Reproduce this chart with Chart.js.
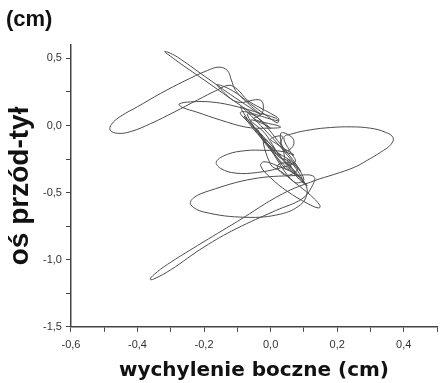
<!DOCTYPE html>
<html>
<head>
<meta charset="utf-8">
<script src="https://cdn.jsdelivr.net/npm/chart.js@4"></script>
<style>
  html, body { margin: 0; padding: 0; background: #fff; }
</style>
</head>
<body>
<canvas id="myChart" width="444" height="383"></canvas>
<script>
  // path of the centre of pressure, split into the visible loops (cm)
  const spikeX = [0.00, -0.05, -0.12, -0.20, -0.27, -0.30, -0.318, -0.31, -0.28, -0.20, -0.12, -0.06, -0.03];
  const spikeY = [-0.02, 0.08, 0.20, 0.34, 0.46, 0.515, 0.55, 0.548, 0.51, 0.37, 0.23, 0.13, 0.08];

  const leftLoopX = [-0.07, -0.105, -0.118, -0.13, -0.155, -0.19, -0.26, -0.33, -0.40, -0.45, -0.478, -0.482, -0.46, -0.42, -0.36, -0.29, -0.22, -0.16, -0.125, -0.10, -0.07];
  const leftLoopY = [0.17, 0.26, 0.34, 0.41, 0.435, 0.41, 0.33, 0.24, 0.14, 0.07, 0.01, -0.035, -0.058, -0.045, 0.015, 0.10, 0.19, 0.265, 0.30, 0.27, 0.19];

  const tiltLoopX = [-0.03, 0.0, 0.024, 0.02, -0.01, -0.06, -0.115, -0.16, -0.15, -0.10, -0.03, -0.025, -0.05];
  const tiltLoopY = [0.13, 0.09, 0.05, 0.02, 0.07, 0.16, 0.26, 0.305, 0.27, 0.175, 0.188, 0.09, 0.05];

  const flatLoopX = [0.03, -0.02, -0.074, -0.15, -0.222, -0.265, -0.275, -0.24, -0.173, -0.10, -0.03, 0.015, 0.022];
  const flatLoopY = [-0.01, -0.02, -0.012, 0.04, 0.10, 0.135, 0.16, 0.176, 0.174, 0.14, 0.09, 0.055, 0.035];

  const clusterAX = [-0.09, -0.03, 0.03, 0.01, -0.05, -0.08, -0.04, 0.02, 0.06, 0.05, 0.0, -0.04, -0.01, 0.04, 0.03, 0.065, 0.068, 0.045, 0.03, 0.035, 0.0];
  const clusterAY = [0.10, -0.06, -0.23, -0.19, -0.01, 0.07, -0.06, -0.2, -0.27, -0.33, -0.17, -0.03, -0.14, -0.25, -0.06, -0.09, -0.15, -0.19, -0.14, -0.08, -0.1];

  const midLoopX = [0.02, 0.07, 0.04, -0.02, -0.074, -0.13, -0.163, -0.15, -0.104, -0.04, 0.03, 0.074, 0.06];
  const midLoopY = [-0.14, -0.22, -0.195, -0.185, -0.187, -0.215, -0.27, -0.32, -0.355, -0.35, -0.315, -0.27, -0.2];

  const rightLoopX = [0.04, 0.064, 0.12, 0.18, 0.242, 0.30, 0.345, 0.368, 0.362, 0.33, 0.29, 0.252, 0.19, 0.133, 0.035, -0.10, -0.22, -0.31, -0.35, -0.362, -0.352, -0.30, -0.20, -0.104, 0.015, 0.094, 0.123];
  const rightLoopY = [-0.09, -0.062, -0.032, -0.015, -0.01, -0.02, -0.05, -0.09, -0.14, -0.2, -0.26, -0.311, -0.365, -0.41, -0.51, -0.715, -0.895, -1.035, -1.11, -1.146, -1.145, -1.075, -0.905, -0.77, -0.634, -0.547, -0.46];

  const lowLoopX = [0.13, 0.074, -0.054, -0.183, -0.232, -0.24, -0.2, -0.074, 0.03, 0.09, 0.109, 0.105, 0.08];
  const lowLoopY = [-0.38, -0.373, -0.398, -0.485, -0.54, -0.59, -0.645, -0.684, -0.66, -0.59, -0.51, -0.44, -0.37];

  const smallLoopX = [0.02, -0.02, -0.03, 0.0, 0.05, 0.11, 0.145, 0.148, 0.12, 0.07, 0.03, 0.0];
  const smallLoopY = [-0.3, -0.27, -0.3, -0.39, -0.49, -0.58, -0.615, -0.595, -0.52, -0.42, -0.34, -0.29];

  const clusterCX = [-0.02, 0.04, 0.08, 0.02, -0.05, -0.09, -0.03, 0.05, 0.1, 0.07, 0.0, -0.07, -0.04, 0.03, 0.09, 0.06, 0.02, 0.045, 0.08, 0.06];
  const clusterCY = [-0.1, -0.26, -0.38, -0.24, -0.02, 0.14, 0.0, -0.22, -0.4, -0.42, -0.18, 0.08, 0.06, -0.14, -0.34, -0.28, -0.3, -0.37, -0.33, -0.26];

  const clusterBX = [0.05, 0.09, 0.11, 0.08, 0.04, 0.07, 0.1, 0.06, 0.02, 0.0, -0.02, -0.06, -0.03, 0.0];
  const clusterBY = [-0.26, -0.4, -0.45, -0.36, -0.25, -0.3, -0.43, -0.33, -0.2, -0.12, -0.05, 0.04, 0.02, -0.02];

  const segments = [
    [spikeX, spikeY], [leftLoopX, leftLoopY], [tiltLoopX, tiltLoopY], [flatLoopX, flatLoopY],
    [clusterAX, clusterAY], [midLoopX, midLoopY], [rightLoopX, rightLoopY], [lowLoopX, lowLoopY],
    [smallLoopX, smallLoopY], [clusterCX, clusterCY], [clusterBX, clusterBY]
  ];

  const path = [];
  segments.forEach(([xs, ys]) => {
    xs.forEach((x, i) => path.push({ x: x, y: ys[i] }));
  });

  const fmt = (v) => (Math.abs(v) < 1e-9 ? 0 : v).toFixed(1).replace('.', ',');
  const isStep = (v, step) => Math.abs(v / step - Math.round(v / step)) < 1e-6;

  const ctx = document.getElementById('myChart').getContext('2d');

  const myChart = new Chart(ctx, {
    type: 'scatter',
    data: {
      datasets: [{
        data: path,
        showLine: true,
        borderColor: '#4d4d4d',
        borderWidth: 1,
        pointRadius: 0,
        tension: 0.4
      }]
    },
    options: {
      responsive: false,
      animation: false,
      layout: { padding: { left: 6, right: 0, top: 0, bottom: 0 } },
      plugins: {
        legend: { display: false },
        tooltip: { enabled: false },
        title: {
          display: true,
          text: '(cm)',
          align: 'start',
          color: '#111',
          font: { family: '"Liberation Sans", Arial, sans-serif', size: 22, weight: 'bold', lineHeight: 1.2 },
          padding: { top: 7, bottom: 11.6 }
        }
      },
      scales: {
        x: {
          type: 'linear',
          min: -0.6,
          max: 0.5,
          border: { display: true, color: '#444', width: 1.5 },
          grid: { drawOnChartArea: false, drawTicks: true, tickLength: 5, color: '#444' },
          ticks: {
            stepSize: 0.1,
            includeBounds: false,
            maxRotation: 0,
            autoSkip: false,
            padding: 7,
            color: '#333',
            font: { family: '"Liberation Sans", Arial, sans-serif', size: 11 },
            callback: (v) => (isStep(v, 0.2) ? fmt(v) : '')
          },
          title: {
            display: true,
            text: 'wychylenie boczne (cm)',
            color: '#111',
            font: { family: '"DejaVu Sans", sans-serif', size: 20, weight: 'bold', lineHeight: 1.2 },
            padding: { top: 0, bottom: 0 }
          }
        },
        y: {
          type: 'linear',
          min: -1.5,
          max: 0.6,
          border: { display: true, color: '#444', width: 1.5 },
          grid: { drawOnChartArea: false, drawTicks: true, tickLength: 5, color: '#444' },
          ticks: {
            stepSize: 0.25,
            includeBounds: false,
            autoSkip: false,
            padding: 4,
            color: '#333',
            font: { family: '"Liberation Sans", Arial, sans-serif', size: 11 },
            callback: (v) => (isStep(v, 0.5) ? fmt(v) : '')
          },
          title: {
            display: true,
            text: 'oś przód-tył',
            color: '#111',
            font: { family: '"Liberation Sans", Arial, sans-serif', size: 28, weight: 'bold', lineHeight: 1 },
            padding: { top: 0, bottom: 5 }
          }
        }
      }
    }
  });
</script>
</body>
</html>
